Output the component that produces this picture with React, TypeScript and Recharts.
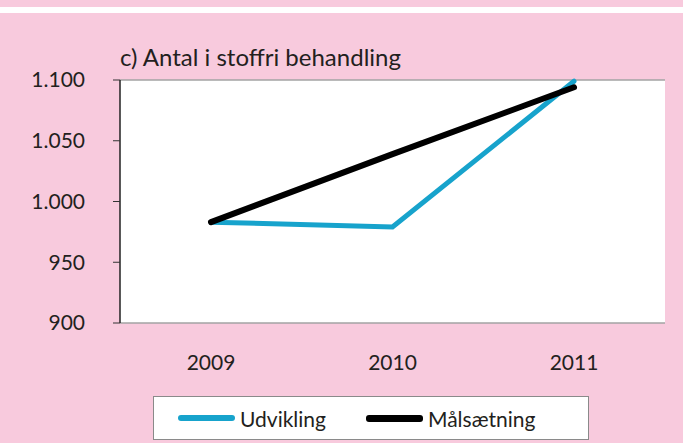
import { CartesianGrid, Legend, Line, LineChart, XAxis, YAxis } from 'recharts'

const years = ['2009', '2010', '2011']
const udvikling = [983, 979, 1099]
const maalsaetning = [983, 1039, 1094]
const yTicks = [900, 950, 1000, 1050, 1100]

const chartData = years.map((year, i) => ({
    year,
    udvikling: udvikling[i],
    maalsaetning: maalsaetning[i],
}))

const font = 'Lato, "Open Sans", sans-serif'
const pink = '#f8cadd'
const blue = '#17a3cc'

const fmt = (v: number) => v.toLocaleString('da-DK')

const LegendBox = () => (
    <div style={{
        width: 434, height: 42, background: '#fff', border: '1px solid #8a8a8a',
        display: 'flex', alignItems: 'center', fontFamily: font, fontSize: 21, color: '#231f20',
    }}>
        <span style={{ width: 57, height: 6, background: blue, borderRadius: 3, marginLeft: 24 }} />
        <span style={{ marginLeft: 5 }}>Udvikling</span>
        <span style={{ width: 57, height: 7, background: '#000', borderRadius: 3, marginLeft: 40 }} />
        <span style={{ marginLeft: 5 }}>Målsætning</span>
    </div>
)

const App = () => {
    return (
        <div style={{ position: 'absolute', left: 0, top: 0, width: 683, height: 443, background: pink, overflow: 'hidden' }}>
            <div style={{ position: 'absolute', left: 0, top: 7, width: 683, height: 6, background: '#fff' }} />
            <div style={{ position: 'absolute', left: 120, top: 42, fontFamily: font, fontSize: 24, color: '#231f20' }}>
                c) Antal i stoffri behandling
            </div>
            <LineChart width={683} height={443} data={chartData} margin={{ top: 80, right: 18, bottom: 0, left: 0 }}>
                <CartesianGrid vertical={false} stroke="#a3a3a3" strokeWidth={1.5} fill="#fff" />
                <XAxis xAxisId="b" type="number" domain={[0, 3]} ticks={[0, 1, 2, 3]} height={0}
                    tick={false} tickSize={7} axisLine={{ stroke: '#333', strokeWidth: 1.5 }}
                    tickLine={{ stroke: '#777' }} />
                <XAxis dataKey="year" height={76} axisLine={false} tickLine={false}
                    padding={{ left: 91, right: 91 }}
                    tick={{ fill: '#231f20', fontSize: 21, fontFamily: font, dy: 24 }} />
                <YAxis yAxisId="l" width={120} domain={[900, 1100]} ticks={yTicks} tickFormatter={fmt}
                    tickSize={7} axisLine={{ stroke: '#222', strokeWidth: 1.5 }}
                    tickLine={{ stroke: '#333' }}
                    tick={{ fill: '#231f20', fontSize: 21, fontFamily: font, dx: -26 }} />
                <YAxis yAxisId="r" orientation="right" width={0} domain={[900, 1100]} tick={false}
                    tickLine={false} axisLine={{ stroke: '#8a8a8a', strokeWidth: 2 }} />
                <Line yAxisId="l" dataKey="udvikling" stroke={blue} strokeWidth={5} dot={false}
                    strokeLinecap="round" isAnimationActive={false} />
                <Line yAxisId="l" dataKey="maalsaetning" stroke="#000" strokeWidth={6} dot={false}
                    strokeLinecap="round" isAnimationActive={false} />
                <Legend content={LegendBox} wrapperStyle={{ left: 153, top: 396, width: 436, height: 44 }} />
            </LineChart>
        </div>
    )
}

export default App
